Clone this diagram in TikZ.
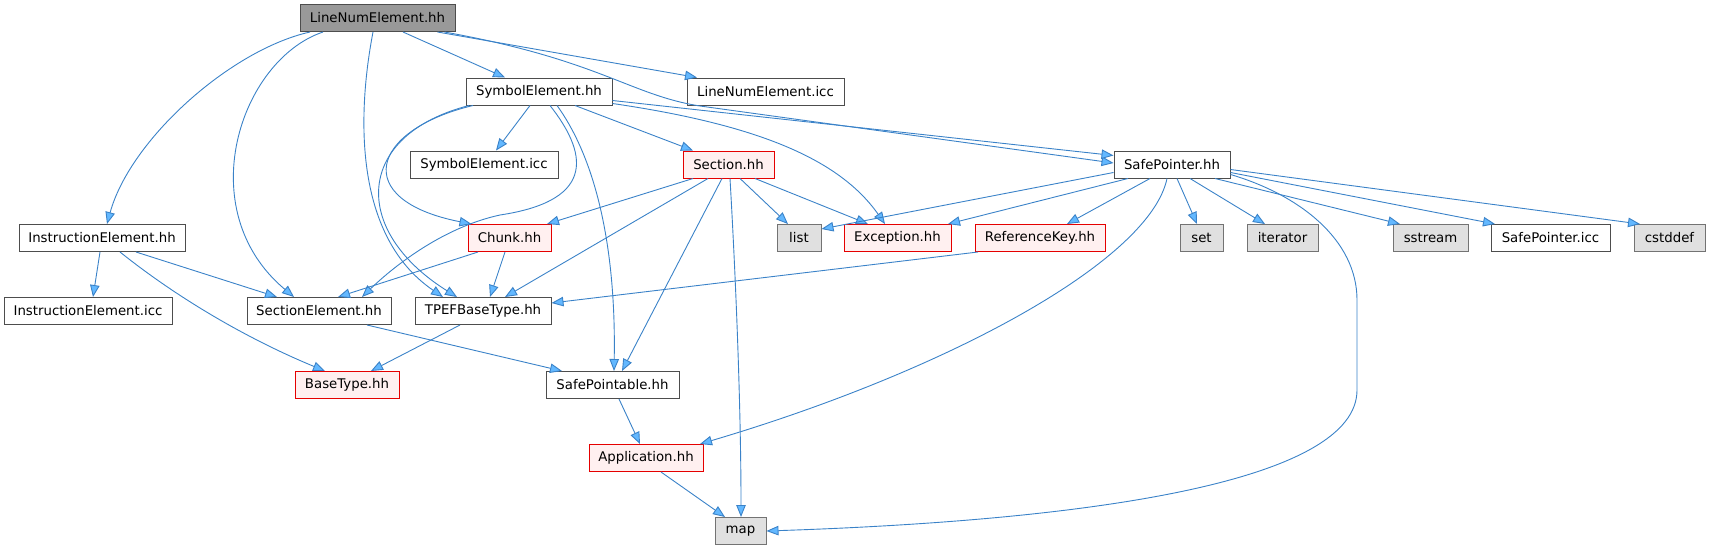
\documentclass[tikz,border=0pt]{standalone}
\usepackage{fontspec}
\setmainfont{DejaVu Sans}
\usetikzlibrary{arrows.meta}
\definecolor{edgecol}{HTML}{3A82C8}
\definecolor{arrowfill}{HTML}{63B8FF}
\definecolor{greyforty}{HTML}{4D4D4D}
\definecolor{greysixty}{HTML}{999999}
\definecolor{sysfill}{HTML}{E0E0E0}
\definecolor{redfill}{HTML}{FFF0F0}
\begin{document}
\begin{tikzpicture}[x=1pt,y=-1pt,
  box/.style={rectangle,inner sep=0pt,minimum height=27pt,line width=1pt,
    font=\fontsize{13.3}{16}\selectfont},
  plain/.style={box,draw=greyforty,fill=white},
  rootbox/.style={box,draw=greyforty,fill=greysixty},
  redbox/.style={box,draw=red!90!black,fill=redfill},
  sysbox/.style={box,draw=greysixty!75!black,fill=sysfill},
  dep/.style={draw=edgecol,line width=0.9pt,
    -{Triangle[length=12pt,width=9.5pt,fill=arrowfill]}}]
\useasboundingbox (0,0) rectangle (1712,549);
% nodes
\node[rootbox,minimum width=155pt] (lne) at (377.5,18) {LineNumElement.hh};
\node[plain,minimum width=146pt] (se) at (539,91.5) {SymbolElement.hh};
\node[plain,minimum width=157pt] (lneicc) at (765.5,91.5) {LineNumElement.icc};
\node[plain,minimum width=148pt] (seicc) at (484,164.5) {SymbolElement.icc};
\node[redbox,minimum width=91pt] (sec) at (728.5,164.5) {Section.hh};
\node[plain,minimum width=116pt] (sp) at (1172,164.5) {SafePointer.hh};
\node[plain,minimum width=166pt] (ie) at (102,238) {InstructionElement.hh};
\node[redbox,minimum width=83pt] (chunk) at (509.5,238) {Chunk.hh};
\node[sysbox,minimum width=44pt] (list) at (799,238) {list};
\node[redbox,minimum width=107pt] (exc) at (897.5,238) {Exception.hh};
\node[redbox,minimum width=130pt] (rk) at (1040,238) {ReferenceKey.hh};
\node[sysbox,minimum width=43pt] (set) at (1201.5,238) {set};
\node[sysbox,minimum width=71pt] (iter) at (1282.5,238) {iterator};
\node[sysbox,minimum width=75pt] (sstr) at (1430.5,238) {sstream};
\node[plain,minimum width=119pt] (spicc) at (1550.5,238) {SafePointer.icc};
\node[sysbox,minimum width=71pt] (cst) at (1669.5,238) {cstddef};
\node[plain,minimum width=168pt] (ieicc) at (88,311) {InstructionElement.icc};
\node[plain,minimum width=144pt] (sel) at (319,311) {SectionElement.hh};
\node[plain,minimum width=136pt] (tpef) at (483,311) {TPEFBaseType.hh};
\node[redbox,minimum width=104pt] (bt) at (347,385) {BaseType.hh};
\node[plain,minimum width=133pt] (spa) at (612.5,385) {SafePointable.hh};
\node[redbox,minimum width=114pt] (app) at (646,458) {Application.hh};
\node[sysbox,minimum width=51pt] (map) at (740.5,531) {map};
% edges from LineNumElement.hh
\draw[dep] ([xshift=-67.5pt]lne.south) .. controls (230,50) and (130,140) .. ([xshift=5pt]ie.north);
\draw[dep] ([xshift=-54.5pt]lne.south) .. controls (240,60) and (190,210) .. ([xshift=-25pt]sel.north);
\draw[dep] ([xshift=-4.5pt]lne.south) .. controls (358,110) and (352,235) .. ([xshift=-40pt]tpef.north);
\draw[dep] ([xshift=25.5pt]lne.south) -- ([xshift=-34pt]se.north);
\draw[dep] ([xshift=60pt]lne.south) -- ([xshift=-68.5pt]lneicc.north);
\draw[dep] ([xshift=67pt]lne.south) .. controls (600,60) and (630,95) .. (700,106) -- ([yshift=1.5pt]sp.west);
% edges from SymbolElement.hh
\draw[dep] ([yshift=-9pt]se.east) -- ([yshift=9pt]sp.west);
\draw[dep] ([yshift=-12pt]se.east) .. controls (760,125) and (840,160) .. ([xshift=-12.5pt]exc.north);
\draw[dep] ([xshift=-9pt]se.south) -- ([xshift=12pt]seicc.north);
\draw[dep] ([xshift=-66pt]se.south) .. controls (370,130) and (350,200) .. ([xshift=-38pt]chunk.north);
\draw[dep] ([xshift=-70pt]se.south) .. controls (355,135) and (350,230) .. ([xshift=-26pt]tpef.north);
\draw[dep] ([xshift=11pt]se.south) .. controls (585,150) and (600,200) .. (500,215)
  .. controls (440,228) and (390,270) .. ([xshift=43pt]sel.north);
\draw[dep] ([xshift=18pt]se.south) .. controls (600,165) and (616,260) .. ([xshift=1.5pt]spa.north);
\draw[dep] ([xshift=36pt]se.south) -- ([xshift=-35.5pt]sec.north);
% InstructionElement.hh
\draw[dep] ([xshift=-2pt]ie.south) -- ([xshift=5pt]ieicc.north);
\draw[dep] ([xshift=34pt]ie.south) -- ([xshift=-42pt]sel.north);
\draw[dep] ([xshift=18pt]ie.south) .. controls (180,300) and (250,340) .. ([xshift=-22pt]bt.north);
% Chunk.hh
\draw[dep] ([xshift=-31.5pt]chunk.south) -- ([xshift=19pt]sel.north);
\draw[dep] ([xshift=-4.5pt]chunk.south) -- ([xshift=7pt]tpef.north);
% Section.hh
\draw[dep] ([xshift=-35.5pt]sec.south) -- ([xshift=37.5pt]chunk.north);
\draw[dep] ([xshift=-20.5pt]sec.south) -- ([xshift=22pt]tpef.north);
\draw[dep] ([xshift=-6.5pt]sec.south) -- ([xshift=9.5pt]spa.north);
\draw[dep] ([xshift=1.5pt]sec.south) .. controls (737,300) and (741,420) .. ([xshift=0.5pt]map.north);
\draw[dep] ([xshift=11.5pt]sec.south) -- ([xshift=-11pt]list.north);
\draw[dep] ([xshift=26.5pt]sec.south) -- ([xshift=-29.5pt]exc.north);
% others
\draw[dep] ([xshift=48pt]sel.south) -- ([xshift=-50.5pt]spa.north);
\draw[dep] ([xshift=-23pt]tpef.south) -- ([xshift=24pt]bt.north);
\draw[dep] ([xshift=6.5pt]spa.south) -- ([xshift=-6pt]app.north);
\draw[dep] ([xshift=15pt]app.south) -- ([xshift=-15.5pt]map.north);
\draw[dep] ([xshift=-62pt]rk.south) -- ([yshift=8pt]tpef.east);
% SafePointer.hh
\draw[dep] ([yshift=-8pt]sp.west) -- ([yshift=9pt]list.east);
\draw[dep] ([xshift=-44pt]sp.south) -- ([xshift=50.5pt]exc.north);
\draw[dep] ([xshift=-22pt]sp.south) -- ([xshift=27pt]rk.north);
\draw[dep] ([xshift=-5pt]sp.south) .. controls (1150,260) and (950,370) .. ([xshift=54pt]app.north);
\draw[dep] ([xshift=5pt]sp.south) -- ([xshift=-4.5pt]set.north);
\draw[dep] ([xshift=18pt]sp.south) -- ([xshift=-17.5pt]iter.north);
\draw[dep] ([xshift=43pt]sp.south) -- ([xshift=-30.5pt]sstr.north);
\draw[dep] ([yshift=-10pt]sp.east) .. controls (1300,195) and (1357,240) .. (1357,300) -- (1357,390)
  .. controls (1357,480) and (1100,520) .. (map.east);
\draw[dep] ([yshift=-8pt]sp.east) -- ([xshift=-55.5pt]spicc.north);
\draw[dep] ([yshift=-5pt]sp.east) -- ([xshift=-29.5pt]cst.north);
\end{tikzpicture}
\end{document}
